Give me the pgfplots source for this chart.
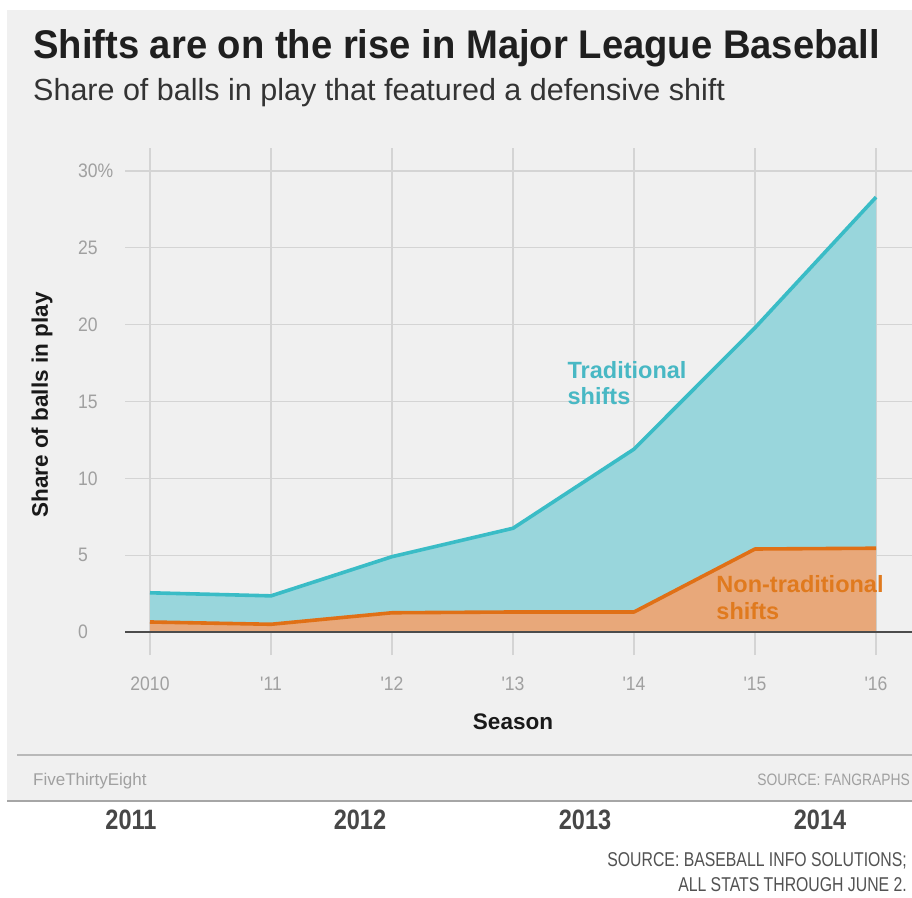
\documentclass[border=0pt]{standalone}
\usepackage{fontspec}
\setmainfont{Liberation Sans}
\newfontfamily\titlefont[FakeStretch=0.955]{Liberation Sans}
\newfontfamily\tickfont[FakeStretch=0.9]{Liberation Sans}
\newfontfamily\condfont[FakeStretch=0.84]{Liberation Sans}
\newfontfamily\srcfont[FakeStretch=0.79]{Liberation Sans}
\usepackage{pgfplots}
\pgfplotsset{compat=1.18}
\definecolor{bg}{RGB}{240,240,240}
\definecolor{gridc}{RGB}{212,212,212}
\definecolor{tealline}{RGB}{58,188,198}
\definecolor{tealfill}{RGB}{153,214,220}
\definecolor{tealtxt}{RGB}{72,184,196}
\definecolor{orline}{RGB}{224,112,22}
\definecolor{orfill}{RGB}{232,168,122}
\definecolor{ortxt}{RGB}{224,122,30}
\definecolor{tickc}{RGB}{160,160,160}
\begin{document}
\begin{tikzpicture}
\path[use as bounding box] (0pt,0pt) rectangle (912pt,-897pt);
\fill[white] (0pt,0pt) rectangle (912pt,-897pt);
\fill[bg] (7pt,-10pt) rectangle (912pt,-801pt);
\draw[gray!70, line width=1.5pt] (7pt,-801pt) -- (912pt,-801pt);
\draw[gray!55, line width=1.2pt] (17pt,-755pt) -- (912pt,-755pt);

\node[anchor=base west, inner sep=0, text=black!88] at (33pt,-58pt)
  {\titlefont\fontsize{40}{40}\selectfont\bfseries Shifts are on the rise in Major League Baseball};
\node[anchor=base west, inner sep=0, text=black!80] at (33pt,-100pt)
  {\fontsize{30.5}{30.5}\selectfont Share of balls in play that featured a defensive shift};

\node[rotate=90, inner sep=0, text=black!90] at (42pt,-405pt)
  {\fontsize{22.5}{22.5}\selectfont\bfseries Share of balls in play};
\node[inner sep=0, text=black!90] at (513pt,-722pt)
  {\fontsize{22.5}{22.5}\selectfont\bfseries Season};

\begin{axis}[
  at={(125pt,-655pt)}, anchor=south west,
  scale only axis, width=787pt, height=507pt,
  xmin=2009.7934, xmax=2016.2975, ymin=-1.5, ymax=31.5,
  axis line style={draw=none},
  tick style={draw=none},
  grid=major,
  grid style={gridc, line width=1.1pt},
  xtick={2010,2011,2012,2013,2014,2015,2016},
  xticklabels={2010,{'11},{'12},{'13},{'14},{'15},{'16}},
  ytick={0,5,10,15,20,25,30},
  yticklabels={0,5,10,15,20,25,30\%},
  xticklabel style={anchor=north, inner sep=0, yshift=-22pt, text=tickc, font=\tickfont\fontsize{19.5}{19.5}\selectfont},
  yticklabel style={anchor=west, inner sep=0, xshift=-47pt, text=tickc, font=\tickfont\fontsize{19.5}{19.5}\selectfont},
  clip=false,
]
\addplot[draw=none, fill=tealfill] coordinates {
  (2010,2.55) (2011,2.35) (2012,4.9) (2013,6.75) (2014,11.9) (2015,19.8) (2016,28.3)
} \closedcycle;
\addplot[draw=none, fill=orfill] coordinates {
  (2010,0.65) (2011,0.5) (2012,1.25) (2013,1.3) (2014,1.3) (2015,5.4) (2016,5.45)
} \closedcycle;
\addplot[tealline, line width=3.6pt, line join=round] coordinates {
  (2010,2.55) (2011,2.35) (2012,4.9) (2013,6.75) (2014,11.9) (2015,19.8) (2016,28.3)
};
\addplot[orline, line width=3.6pt, line join=round] coordinates {
  (2010,0.65) (2011,0.5) (2012,1.25) (2013,1.3) (2014,1.3) (2015,5.4) (2016,5.45)
};
\draw[black!70, line width=1.2pt] (axis cs:2009.7934,0) -- (axis cs:2016.2975,0);
\node[anchor=north west, align=left, inner sep=0, text=tealtxt,
  font=\fontsize{23.5}{25.5}\selectfont\bfseries] at (axis cs:2013.45,17.6) {Traditional\\shifts};
\node[anchor=north west, align=left, inner sep=0, text=ortxt,
  font=\fontsize{23.5}{27}\selectfont\bfseries] at (axis cs:2014.68,3.7) {Non-traditional\\shifts};
\end{axis}

\node[anchor=base west, inner sep=0, text=tickc] at (33pt,-785pt)
  {\fontsize{17}{17}\selectfont FiveThirtyEight};
\node[anchor=base east, inner sep=0, text=tickc] at (910pt,-785pt)
  {\condfont\fontsize{16.5}{16.5}\selectfont SOURCE: FANGRAPHS};

\node[anchor=base, inner sep=0, text=black!72] at (131pt,-829pt) {\condfont\fontsize{28}{28}\selectfont\bfseries 2011};
\node[anchor=base, inner sep=0, text=black!72] at (360pt,-829pt) {\condfont\fontsize{28}{28}\selectfont\bfseries 2012};
\node[anchor=base, inner sep=0, text=black!72] at (585pt,-829pt) {\condfont\fontsize{28}{28}\selectfont\bfseries 2013};
\node[anchor=base, inner sep=0, text=black!72] at (820pt,-829pt) {\condfont\fontsize{28}{28}\selectfont\bfseries 2014};

\node[anchor=base east, inner sep=0, text=black!68] at (907pt,-866pt)
  {\srcfont\fontsize{20}{20}\selectfont SOURCE: BASEBALL INFO SOLUTIONS;};
\node[anchor=base east, inner sep=0, text=black!68] at (907pt,-891pt)
  {\srcfont\fontsize{20}{20}\selectfont ALL STATS THROUGH JUNE 2.};
\end{tikzpicture}
\end{document}
